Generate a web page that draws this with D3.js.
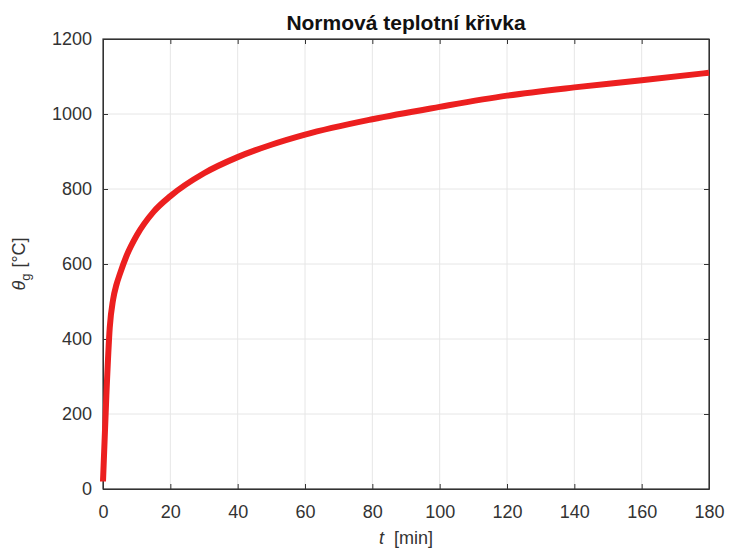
<!DOCTYPE html>
<html lang="en">
<head>
<meta charset="UTF-8">
<title>Normová teplotní křivka</title>
<script src="https://d3js.org/d3.v7.min.js"></script>
<style>
    body { margin: 0; background: #fff; }
    svg { display: block; font-family: "Liberation Sans", Arial, sans-serif; }
    .tick text { fill: #333; font-size: 18px; }
</style>
</head>
<body>
<div id="chart"></div>
<script>
    // values
    const times = [0, 1, 2, 3, 4, 5, 7, 10, 15, 20, 30, 40, 50, 60, 80, 100, 120, 140, 160, 180];
    const temps = [20, 250, 430, 505, 545, 573, 622, 676, 739, 781, 842, 885, 918, 945, 986, 1019, 1049, 1071, 1090, 1110];
    const xTicks = [0, 20, 40, 60, 80, 100, 120, 140, 160, 180];
    const yTicks = [0, 200, 400, 600, 800, 1000, 1200];

    const width = 729, height = 548;
    const margin = { top: 39, right: 20, bottom: 59, left: 103 };
    const iw = width - margin.left - margin.right;
    const ih = height - margin.top - margin.bottom;

    const svg = d3.select("#chart").append("svg")
        .attr("width", width)
        .attr("height", height);

    const g = svg.append("g").attr("transform", `translate(${margin.left},${margin.top})`);

    const x = d3.scaleLinear().domain([0, 180]).range([0, iw]);
    const y = d3.scaleLinear().domain([0, 1200]).range([ih, 0]);

    // grid
    g.append("g").selectAll("line").data(xTicks.slice(1, -1)).enter().append("line")
        .attr("x1", d => x(d)).attr("x2", d => x(d))
        .attr("y1", 0).attr("y2", ih)
        .attr("stroke", "#e6e6e6").attr("stroke-width", 1);
    g.append("g").selectAll("line").data(yTicks.slice(1, -1)).enter().append("line")
        .attr("y1", d => y(d)).attr("y2", d => y(d))
        .attr("x1", 0).attr("x2", iw)
        .attr("stroke", "#e6e6e6").attr("stroke-width", 1);

    // axes, ticks pointing inward like matlab
    g.append("g").attr("transform", `translate(0,${ih})`)
        .call(d3.axisBottom(x).tickValues(xTicks).tickFormat(d3.format("d"))
            .tickSizeInner(-5).tickSizeOuter(0).tickPadding(16));
    g.append("g")
        .call(d3.axisLeft(y).tickValues(yTicks).tickFormat(d3.format("d"))
            .tickSizeInner(-5).tickSizeOuter(0).tickPadding(11));
    g.append("g")
        .call(d3.axisTop(x).tickValues(xTicks).tickSizeInner(-5).tickSizeOuter(0).tickFormat(""));
    g.append("g").attr("transform", `translate(${iw},0)`)
        .call(d3.axisRight(y).tickValues(yTicks).tickSizeInner(-5).tickSizeOuter(0).tickFormat(""));

    g.selectAll(".domain").attr("stroke", "#333");
    g.selectAll(".tick line").attr("stroke", "#333");
    g.selectAll(".tick text").attr("font-family", "Liberation Sans, Arial, sans-serif");

    g.append("rect")
        .attr("width", iw).attr("height", ih)
        .attr("fill", "none").attr("stroke", "#333").attr("stroke-width", 1.2);

    // curve
    const pts = times.map((t, i) => [t, temps[i]]);
    const line = d3.line()
        .x(d => x(d[0]))
        .y(d => y(d[1]))
        .curve(d3.curveMonotoneX);

    g.append("path")
        .datum(pts)
        .attr("fill", "none")
        .attr("stroke", "#ec1f1f")
        .attr("stroke-width", 6)
        .attr("stroke-linejoin", "round")
        .attr("d", line);

    // title
    svg.append("text")
        .attr("x", margin.left + iw / 2)
        .attr("y", 30)
        .attr("text-anchor", "middle")
        .attr("font-size", 21)
        .attr("font-weight", "bold")
        .attr("fill", "#111")
        .text("Normová teplotní křivka");

    // x label
    const xl = svg.append("text")
        .attr("x", margin.left + iw / 2)
        .attr("y", 544)
        .attr("text-anchor", "middle")
        .attr("font-size", 18)
        .attr("fill", "#333");
    xl.append("tspan").attr("font-style", "italic").text("t");
    xl.append("tspan").attr("dx", 10).text("[min]");

    // y label
    const yl = svg.append("text")
        .attr("transform", `translate(25,${margin.top + ih / 2}) rotate(-90)`)
        .attr("text-anchor", "middle")
        .attr("font-size", 18)
        .attr("fill", "#333");
    yl.append("tspan").attr("font-style", "italic").text("θ");
    yl.append("tspan").attr("font-size", 13).attr("dy", 5).text("g");
    yl.append("tspan").attr("dy", -5).attr("dx", 6).text("[°C]");
</script>
</body>
</html>
